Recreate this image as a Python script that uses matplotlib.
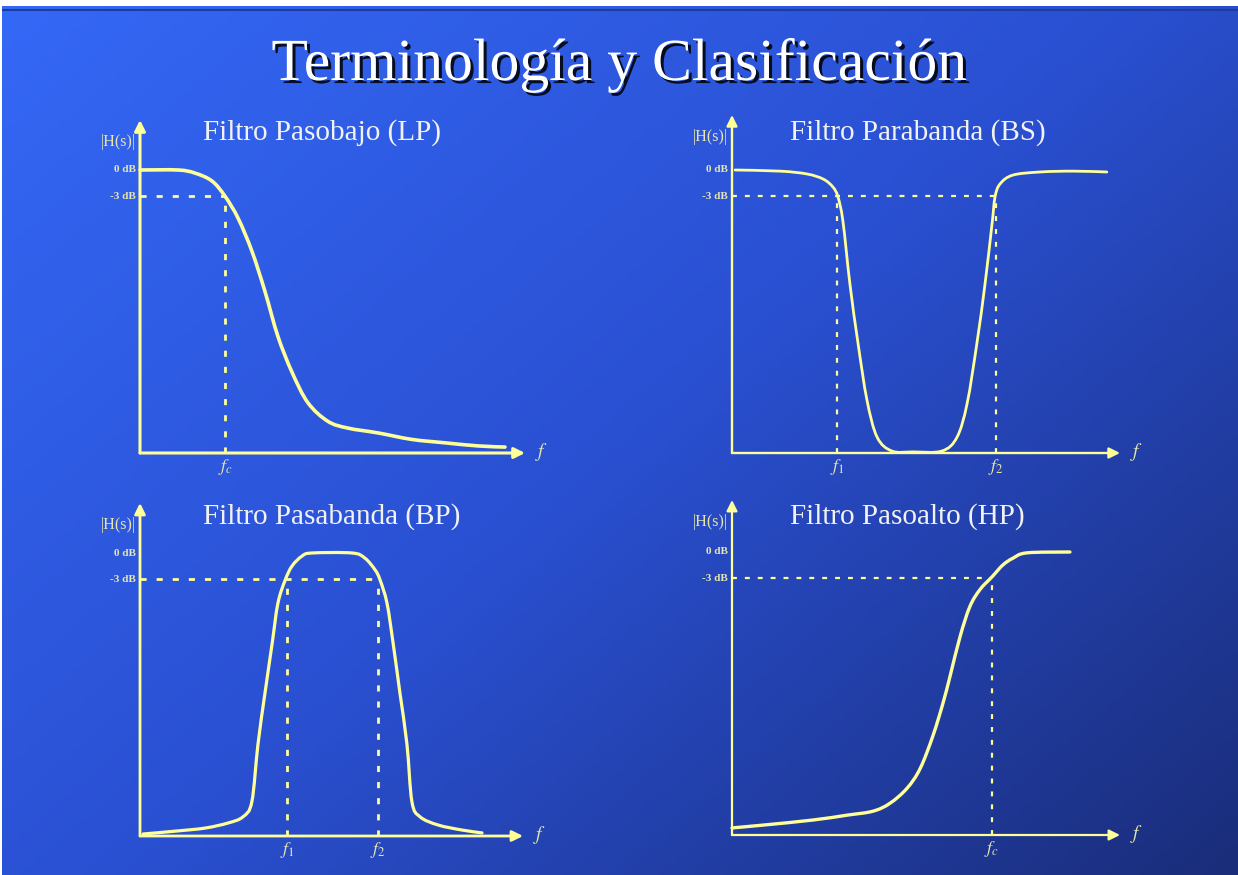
import numpy as np
import matplotlib.pyplot as plt
import matplotlib.patheffects as pe
from matplotlib.colors import LinearSegmentedColormap
from matplotlib.path import Path
from matplotlib.patches import PathPatch

plt.rcParams['font.family'] = ['Liberation Serif', 'DejaVu Serif']
plt.rcParams['mathtext.fontset'] = 'stix'

W, H = 1238, 875

# Magnitude curves: normalised frequency (0..1 along the f axis) vs |H| (1.0 = 0 dB)
lp_f = [0.0, 0.099, 0.143, 0.187, 0.221, 0.255, 0.291, 0.325, 0.358, 0.395,
        0.436, 0.488, 0.540, 0.618, 0.706, 0.792, 0.878, 0.948]
lp_h = [1.0, 1.0, 0.989, 0.961, 0.907, 0.829, 0.712, 0.569, 0.413, 0.285,
        0.178, 0.112, 0.088, 0.071, 0.048, 0.036, 0.025, 0.021]
lp_marks = [0.221]

bs_f = [0.008, 0.124, 0.193, 0.235, 0.260, 0.273, 0.286, 0.304, 0.325, 0.348,
        0.374, 0.412, 0.466, 0.541, 0.580, 0.606, 0.631, 0.652, 0.670, 0.678,
        0.691, 0.724, 0.794, 0.879, 0.966]
bs_h = [1.0, 0.996, 0.986, 0.968, 0.940, 0.905, 0.818, 0.596, 0.386, 0.186,
        0.056, 0.007, 0.004, 0.007, 0.056, 0.175, 0.386, 0.596, 0.807, 0.905,
        0.951, 0.982, 0.993, 0.996, 0.993]
bs_marks = [0.271, 0.680]

bp_f = [0.008, 0.099, 0.170, 0.230, 0.269, 0.292, 0.308, 0.326, 0.345, 0.360,
        0.379, 0.397, 0.423, 0.449, 0.554, 0.587, 0.614, 0.627, 0.645, 0.661,
        0.679, 0.697, 0.710, 0.731, 0.778, 0.841, 0.893]
bp_h = [0.007, 0.018, 0.028, 0.046, 0.068, 0.121, 0.324, 0.502, 0.680, 0.822,
        0.904, 0.954, 0.989, 1.0, 1.0, 0.982, 0.940, 0.904, 0.822, 0.680,
        0.502, 0.324, 0.121, 0.068, 0.039, 0.021, 0.011]
bp_marks = [0.384, 0.621]

hp_f = [0.0, 0.080, 0.209, 0.296, 0.363, 0.407, 0.451, 0.485, 0.518, 0.544,
        0.562, 0.588, 0.613, 0.639, 0.670, 0.698, 0.724, 0.760, 0.871]
hp_h = [0.025, 0.035, 0.053, 0.070, 0.084, 0.112, 0.165, 0.235, 0.351, 0.467,
        0.561, 0.702, 0.807, 0.867, 0.912, 0.954, 0.978, 0.997, 1.0]
hp_marks = [0.670]

level_3db = 0.908
titles = ['Filtro Pasobajo (LP)', 'Filtro Parabanda (BS)',
          'Filtro Pasabanda (BP)', 'Filtro Pasoalto (HP)']
mark_labels = [[r'$f_c$'], [r'$f_1$', r'$f_2$'], [r'$f_1$', r'$f_2$'], [r'$f_c$']]

YELLOW = '#FFFF99'
KHAKI = '#E6E6AE'


def fig_rect(x0, y0, x1, y1):
    """pixel box (left, axis y, arrow x end, arrow y end) -> figure fraction rect"""
    return [x0 / W, 1 - y0 / H, (x1 - x0) / W, (y0 - y1) / H]


def smooth_path(xs, ys):
    """Catmull-Rom style bezier through the given points"""
    pts = np.column_stack([xs, ys])
    verts = [pts[0]]
    codes = [Path.MOVETO]
    n = len(pts)
    for k in range(n - 1):
        p0 = pts[max(k - 1, 0)]
        p1 = pts[k]
        p2 = pts[k + 1]
        p3 = pts[min(k + 2, n - 1)]
        verts += [p1 + (p2 - p0) / 6, p2 - (p3 - p1) / 6, p2]
        codes += [Path.CURVE4] * 3
    return Path(verts, codes)


fig = plt.figure(figsize=(W / 100, H / 100), dpi=100)
fig.patch.set_facecolor('white')

# slide background: diagonal blue gradient
bg = fig.add_axes([0.0016, 0, 0.9984, 1 - 6 / H])
bg.set_axis_off()
gx, gy = np.meshgrid(np.linspace(0, 1, 300), np.linspace(0, 1, 300))
t = 0.55 * gx + 0.45 * gy
cmap = LinearSegmentedColormap.from_list('slide', ['#3468F6', '#2A50D2', '#1A2D7A'])
bg.imshow(t, cmap=cmap, aspect='auto', extent=[0, 1, 1, 0], vmin=0, vmax=1)
bg.axhline(0.005, color='#1E3C9E', lw=1.5)
bg.set_xlim(0, 1)
bg.set_ylim(1, 0)

fig.text(620 / W, 1 - 80 / H, 'Terminología y Clasificación', ha='center', va='baseline',
         fontsize=43, color='white',
         path_effects=[pe.SimplePatchShadow(offset=(2.2, -2.2), shadow_rgbFace='black', alpha=0.85),
                       pe.Normal()])

panels = [
    (lp_f, lp_h, lp_marks, (140, 453, 525, 120), (322, 133), 2.2, 2.6, 2.0),
    (bs_f, bs_h, bs_marks, (732, 453, 1120, 115), (918, 133), 1.7, 2.0, 1.6),
    (bp_f, bp_h, bp_marks, (140, 836, 523, 503), (332, 517), 2.0, 2.3, 2.0),
    (hp_f, hp_h, hp_marks, (732, 835, 1120, 500), (907, 517), 1.6, 2.4, 1.6),
]

for i, (fx, fh, marks, box, tpos, axis_lw, curve_lw, dash_lw) in enumerate(panels):
    x0, y0, x1, y1 = box
    ax = fig.add_axes(fig_rect(x0, y0, x1, y1))
    ax.set_axis_off()
    ax.patch.set_alpha(0)
    ax.set_xlim(0, 1)
    # 0 dB sits ~283 px above the f axis in every panel
    top = (y0 - y1) / 283.0
    ax.set_ylim(0, top)

    # axes with arrow heads
    for end in [(1, 0), (0, top)]:
        ax.annotate('', xy=end, xytext=(0, 0),
                    arrowprops=dict(arrowstyle='-|>', color=YELLOW, lw=axis_lw,
                                    mutation_scale=16, shrinkA=0, shrinkB=0),
                    annotation_clip=False)

    # -3 dB guides
    ax.plot([0, max(marks)], [level_3db, level_3db], color=YELLOW, lw=dash_lw,
            dashes=(2.2, 3.6), clip_on=False)
    for m in marks:
        ax.plot([m, m], [0, level_3db], color=YELLOW, lw=dash_lw,
                dashes=(2.2, 3.6), clip_on=False)

    # magnitude response
    ax.add_patch(PathPatch(smooth_path(fx, fh), facecolor='none', edgecolor=YELLOW,
                           lw=curve_lw, joinstyle='round', capstyle='round',
                           clip_on=False, zorder=4))

    # labels
    ax.annotate('0 dB', xy=(0, 1.0), xytext=(-3, 0), textcoords='offset points',
                ha='right', va='center', fontsize=8, color=KHAKI, fontweight='bold')
    ax.annotate('-3 dB', xy=(0, level_3db), xytext=(-3, 0), textcoords='offset points',
                ha='right', va='center', fontsize=8, color=KHAKI, fontweight='bold')
    ax.annotate('|H(s)|', xy=(0, top), xytext=(-3, -16), textcoords='offset points',
                ha='right', va='center', fontsize=11.5, color=KHAKI)
    ax.annotate('$f$', xy=(1, 0), xytext=(7, 1), textcoords='offset points',
                ha='left', va='center', fontsize=14, color=KHAKI)
    for m, lab in zip(marks, mark_labels[i]):
        ax.annotate(lab, xy=(m, 0), xytext=(0, -3), textcoords='offset points',
                    ha='center', va='top', fontsize=13, color=KHAKI)

    fig.text(tpos[0] / W, 1 - tpos[1] / H, titles[i], ha='center', va='center',
             fontsize=21, color='#F2F2F2')

fig.savefig('out.png', dpi=100, facecolor=fig.get_facecolor())
